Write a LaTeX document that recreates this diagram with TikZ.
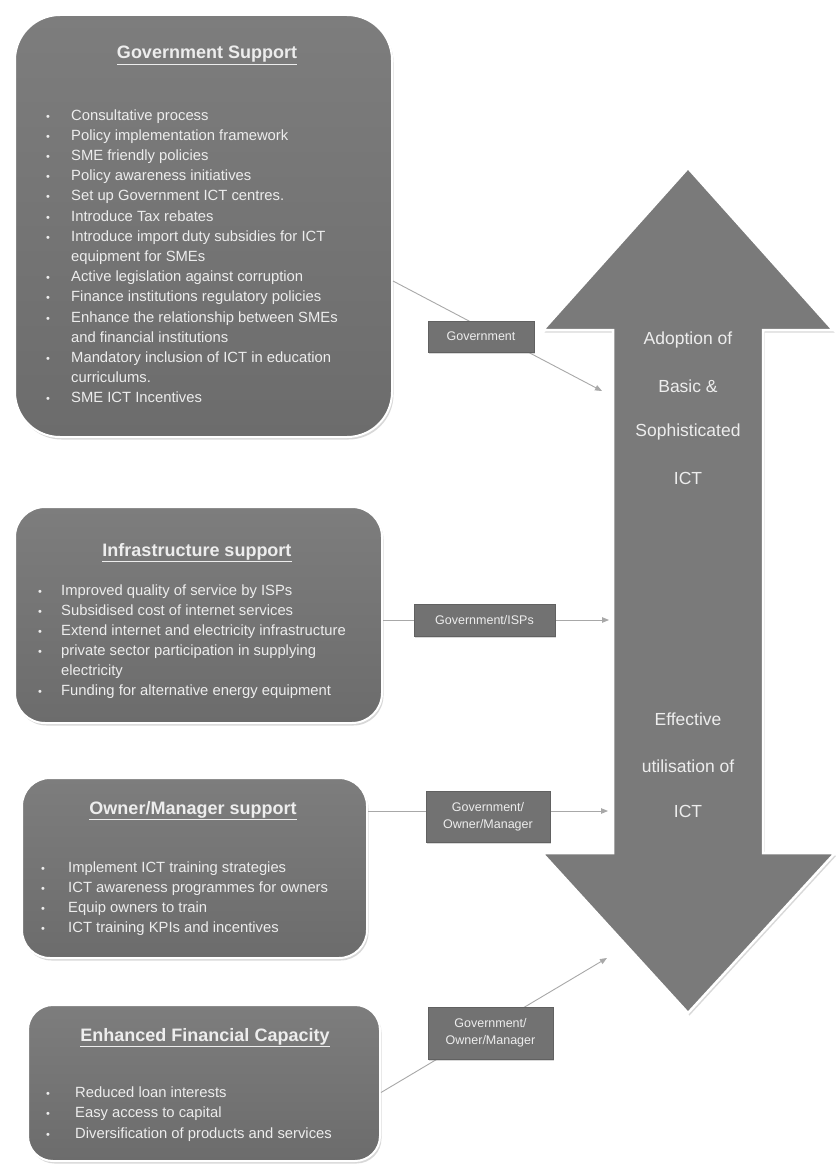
\documentclass[tikz,border=0pt]{standalone}
\usepackage{fontspec}
\setmainfont{Liberation Sans}
\usetikzlibrary{shadows,arrows.meta}
\definecolor{panelTop}{HTML}{7D7D7D}
\definecolor{panelBot}{HTML}{6C6C6C}
\definecolor{arrowFill}{HTML}{7A7A7A}
\definecolor{labFill}{HTML}{727272}
\definecolor{txt}{HTML}{EDEDED}
\definecolor{lineGray}{HTML}{A8A8A8}
\begin{document}
\begin{tikzpicture}[x=1pt,y=-1pt,
  panel/.style={draw=white, line width=2pt, top color=panelTop, bottom color=panelBot, inner sep=0pt,
    drop shadow={shadow xshift=1.5pt, shadow yshift=-2.5pt, opacity=0.3}},
  ptitle/.style={text=txt, font=\fontsize{18}{20}\selectfont\bfseries, anchor=base, inner sep=0pt},
  btxt/.style={text=txt, font=\fontsize{14.8}{18}\selectfont, anchor=base west, inner sep=0pt},
  bul/.style={text=txt, font=\fontsize{11}{12}\selectfont, anchor=base, inner sep=0pt},
  lab/.style={fill=labFill, draw=labFill!85!black, line width=0.4pt, text=txt,
    font=\fontsize{12.5}{17}\selectfont, align=center, inner sep=0pt,
    drop shadow={shadow xshift=1pt, shadow yshift=-2pt, opacity=0.3}},
  conn/.style={draw=lineGray, line width=0.9pt, -{Triangle[length=7pt,width=5.5pt]}},
  atxt/.style={text=txt, font=\fontsize{17.5}{20}\selectfont, inner sep=0pt}
]
\useasboundingbox[fill=white] (0,0) rectangle (835,1164);

% ---------- panels ----------
\node[panel, rounded corners=45pt, minimum width=377pt, minimum height=422pt] (b1) at (203.5,226) {};
\node[panel, rounded corners=30pt, minimum width=367pt, minimum height=216pt] (b2) at (198.5,615) {};
\node[panel, rounded corners=28pt, minimum width=345pt, minimum height=180pt] (b3) at (194.5,868) {};
\node[panel, rounded corners=25pt, minimum width=352pt, minimum height=156pt] (b4) at (204,1083) {};

% titles
\node[ptitle] (h1) at (207,59) {\underline{Government Support}};
\node[ptitle] (h2) at (197,556) {\underline{Infrastructure support}};
\node[ptitle] (h3) at (193,814) {\underline{Owner/Manager support}};
\node[ptitle] (h4) at (205,1041) {\underline{Enhanced Financial Capacity}};

% box 1 list
\foreach \b/\t [count=\i] in {
  1/Consultative process,
  1/Policy implementation framework,
  1/SME friendly policies,
  1/Policy awareness initiatives,
  1/Set up Government ICT centres.,
  1/Introduce Tax rebates,
  1/Introduce import duty subsidies for ICT,
  0/equipment for SMEs,
  1/Active legislation against corruption,
  1/Finance institutions regulatory policies,
  1/Enhance the relationship between SMEs,
  0/and financial institutions,
  1/Mandatory inclusion of ICT in education,
  0/curriculums.,
  1/SME ICT Incentives}{
  \node[btxt] (ga\i) at (71,{120+(\i-1)*20.2}) {\t};
  \ifnum\b=1 \node[bul] (gb\i) at (48,{120+(\i-1)*20.2}) {•};\fi
}

% box 2 list
\foreach \b/\t [count=\i] in {
  1/Improved quality of service by ISPs,
  1/Subsidised cost of internet services,
  1/Extend internet and electricity infrastructure,
  1/private sector participation in supplying,
  0/electricity,
  1/Funding for alternative energy equipment}{
  \node[btxt] (ia\i) at (61,{595+(\i-1)*20}) {\t};
  \ifnum\b=1 \node[bul] (ib\i) at (40,{595+(\i-1)*20}) {•};\fi
}

% box 3 list
\foreach \t [count=\i] in {
  Implement ICT training strategies,
  ICT awareness programmes for owners,
  Equip owners to train,
  ICT training KPIs and incentives}{
  \node[btxt] (oa\i) at (68,{872+(\i-1)*20}) {\t};
  \node[bul] (ob\i) at (43,{872+(\i-1)*20}) {•};
}

% box 4 list
\foreach \t [count=\i] in {
  Reduced loan interests,
  Easy access to capital,
  Diversification of products and services}{
  \node[btxt] (fa\i) at (75,{1097+(\i-1)*20.5}) {\t};
  \node[bul] (fb\i) at (48,{1097+(\i-1)*20.5}) {•};
}

% ---------- big double arrow ----------
\draw[fill=arrowFill, draw=white, line width=2.5pt, line join=miter,
  drop shadow={shadow xshift=1.5pt, shadow yshift=-2.5pt, opacity=0.3}]
  (688,168) -- (833,330) -- (763,330) -- (763,853) -- (835,853) -- (688,1013)
  -- (542,853) -- (613,853) -- (613,330) -- (543,330) -- cycle;

\node[atxt] (a1) at (688,340) {Adoption of};
\node[atxt] (a2) at (688,386) {Basic \&};
\node[atxt] (a3) at (688,432) {Sophisticated};
\node[atxt] (a4) at (688,478) {ICT};
\node[atxt] (a5) at (688,719) {Effective};
\node[atxt] (a6) at (688,766) {utilisation of};
\node[atxt] (a7) at (688,811) {ICT};

% ---------- connectors ----------
\coordinate (t1) at (602,391);
\coordinate (t2) at (609,620);
\coordinate (t3) at (608,811);
\coordinate (t4) at (607,958);

\draw[conn] ([yshift=-55pt]b1.east) -- (t1);
\draw[conn] ([yshift=-5pt]b2.east) -- (t2);
\draw[conn] ([yshift=57pt]b3.east) -- (t3);
\draw[conn] ([yshift=-9.5pt]b4.east) -- (t4);

% ---------- labels ----------
\node[lab, minimum width=106pt, minimum height=31pt] (l1) at (481,336.5) {Government};
\node[lab, minimum width=141pt, minimum height=32pt] (l2) at (484.5,620) {Government/ISPs};
\node[lab, minimum width=124pt, minimum height=51pt] (l3) at (488,816.5) {Government/\\Owner/Manager};
\node[lab, minimum width=125pt, minimum height=52pt] (l4) at (490.5,1033) {Government/\\Owner/Manager};
\end{tikzpicture}
\end{document}
